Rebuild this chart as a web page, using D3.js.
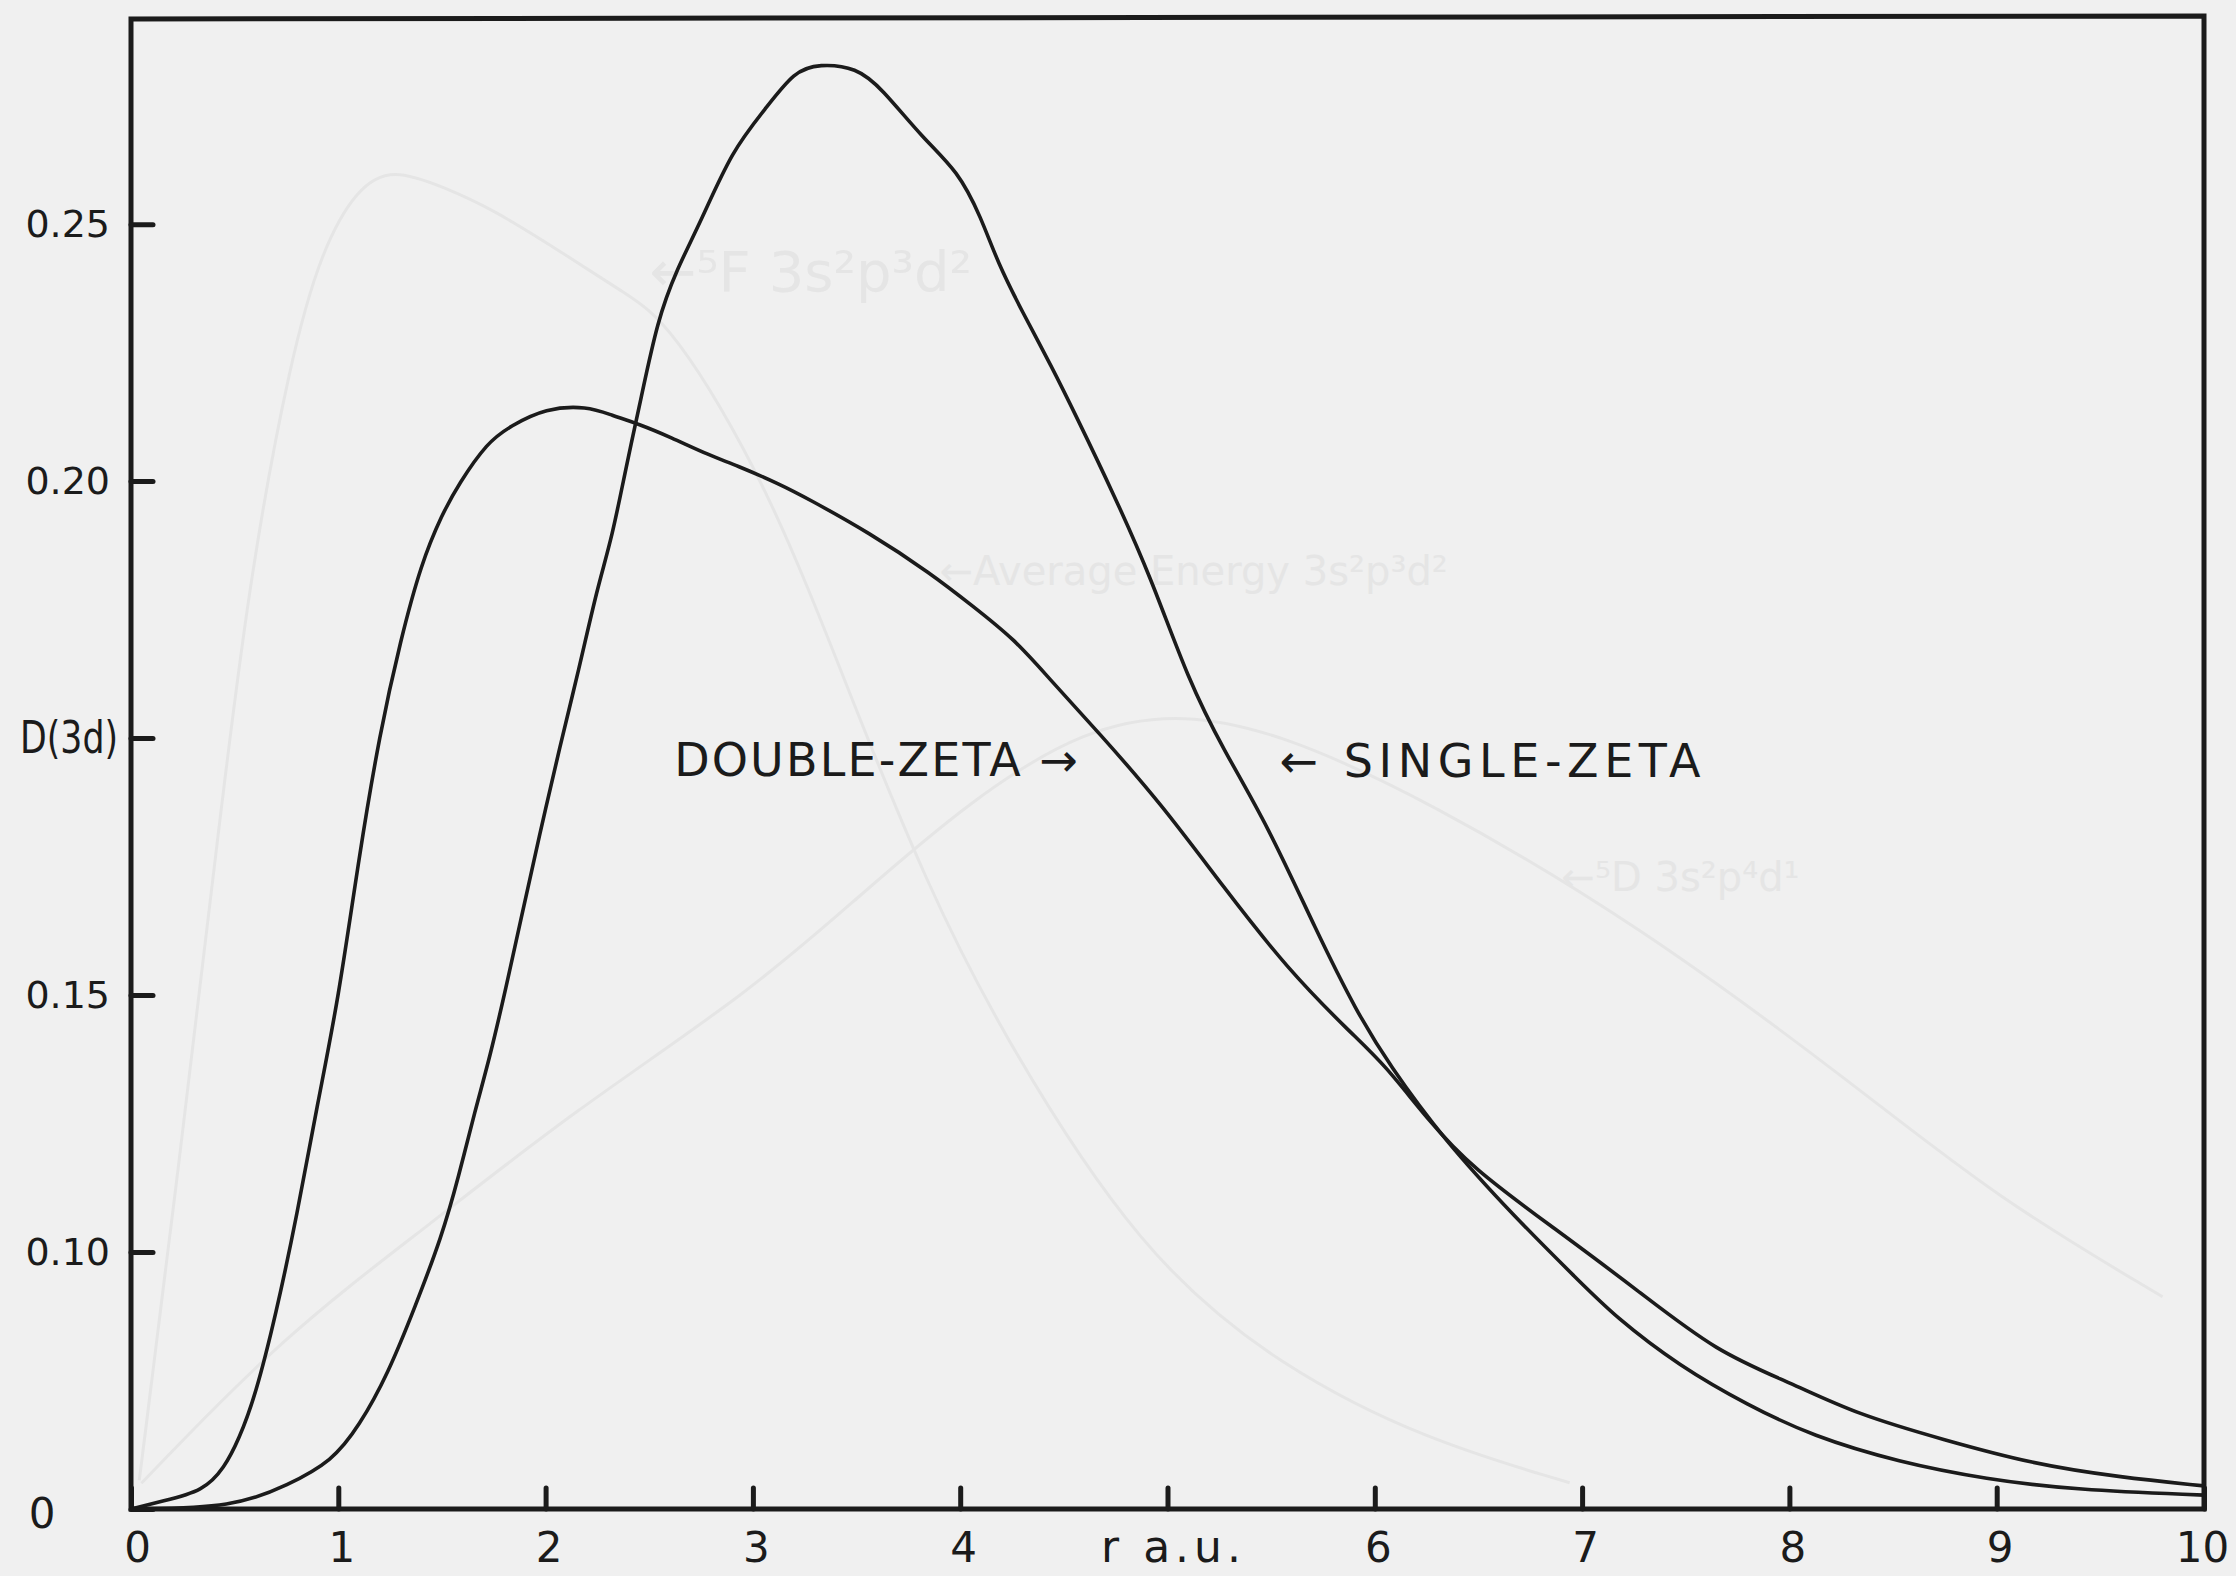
<!DOCTYPE html>
<html>
<head>
<meta charset="utf-8">
<script src="https://cdn.jsdelivr.net/npm/d3@7"></script>
<style>
  body { margin: 0; background: #f0f0f0; }
  svg { display: block; }
</style>
</head>
<body>
<div id="visArea"></div>
<script>
// values (r in a.u., D(3d) in plot units)
var singleR = [0, 0.5, 0.76, 0.97, 1.10, 1.24, 1.37, 1.50, 1.58, 1.66, 1.73, 1.81, 1.88, 1.97, 2.07, 2.16, 2.25, 2.32, 2.39, 2.46, 2.54, 2.63, 2.75, 2.90, 3.06, 3.20, 3.32, 3.50, 3.62, 3.82, 3.99, 4.10, 4.18, 4.30, 4.44, 4.56, 4.74, 4.92, 5.10, 5.27, 5.48, 5.72, 5.91, 6.07, 6.33, 6.68, 6.98, 7.16, 7.47, 7.80, 8.11, 8.53, 8.95, 9.38, 10]
var singleD = [0, 0.0003, 0.0047, 0.0093, 0.0161, 0.0263, 0.0393, 0.0531, 0.0646, 0.0776, 0.0877, 0.1016, 0.1146, 0.131, 0.1486, 0.1632, 0.1794, 0.1889, 0.2031, 0.216, 0.2313, 0.241, 0.2506, 0.2644, 0.2724, 0.2798, 0.2812, 0.2805, 0.2765, 0.2667, 0.2603, 0.2514, 0.2426, 0.2329, 0.2224, 0.2126, 0.1975, 0.1813, 0.1613, 0.1477, 0.1333, 0.1123, 0.0969, 0.0864, 0.072, 0.0566, 0.0446, 0.0374, 0.0278, 0.0202, 0.0142, 0.0091, 0.0058, 0.0037, 0.0027]

var doubleR = [0, 0.15, 0.35, 0.45, 0.52, 0.60, 0.70, 0.80, 0.90, 1.00, 1.10, 1.20, 1.30, 1.40, 1.50, 1.58, 1.72, 1.83, 2.00, 2.20, 2.32, 2.45, 2.60, 2.79, 2.92, 3.13, 3.26, 3.56, 3.86, 4.06, 4.26, 4.42, 4.67, 4.97, 5.27, 5.58, 5.88, 6.05, 6.25, 6.47, 6.87, 7.27, 7.65, 8.01, 8.32, 8.75, 9.17, 9.59, 10]
var doubleD = [0, 0.0015, 0.0035, 0.008, 0.0135, 0.022, 0.038, 0.057, 0.079, 0.099, 0.127, 0.151, 0.169, 0.184, 0.1935, 0.1994, 0.2076, 0.2107, 0.2142, 0.2146, 0.2128, 0.2111, 0.2086, 0.205, 0.2031, 0.1994, 0.1967, 0.190, 0.182, 0.1757, 0.1693, 0.162, 0.151, 0.1372, 0.121, 0.105, 0.0928, 0.0864, 0.076, 0.0663, 0.0545, 0.0425, 0.0305, 0.0245, 0.0185, 0.0134, 0.0088, 0.0062, 0.0045]

// faint curves showing through from the other side of the sheet
var ghostAR = [0.04, 0.24, 0.41, 0.57, 0.77, 0.92, 1.09, 1.26, 1.52, 1.74, 2.06, 2.38, 2.60, 3.08, 3.50, 3.84, 4.18, 4.87, 5.56, 6.25, 6.94]
var ghostAD = [0.0056, 0.0698, 0.128, 0.181, 0.224, 0.245, 0.257, 0.261, 0.257, 0.253, 0.245, 0.2366, 0.231, 0.199, 0.155, 0.1216, 0.0938, 0.0494, 0.0272, 0.0134, 0.0051]
var ghostBR = [0.05, 0.74, 1.43, 2.12, 2.99, 3.50, 4.05, 4.60, 5.08, 5.56, 6.25, 7.27, 8.31, 9.0, 9.8]
var ghostBD = [0.005, 0.0339, 0.055, 0.077, 0.1007, 0.1188, 0.138, 0.152, 0.155, 0.1507, 0.138, 0.1138, 0.0827, 0.0605, 0.0413]
var ghostLabels = ["\u2190\u2075F  3s\u00b2p\u00b3d\u00b2", "\u2190Average Energy  3s\u00b2p\u00b3d\u00b2", "\u2190\u2075D  3s\u00b2p\u2074d\u00b9"]
var ghostLabelR = [2.5, 3.9, 6.9]
var ghostLabelD = [0.237, 0.1797, 0.1203]

var xTicks = [0, 1, 2, 3, 4, 5, 6, 7, 8, 9, 10]
var xTickLabels = ["0", "1", "2", "3", "4", "r a.u.", "6", "7", "8", "9", "10"]
var yTicks = [0, 0.05, 0.10, 0.15, 0.20, 0.25]
var yTickLabels = ["0", "0.10", "0.15", "D(3d)", "0.20", "0.25"]

var seriesNames = ["DOUBLE-ZETA \u2192", "\u2190 SINGLE-ZETA"]
var seriesLabelR = [2.62, 5.54]
var seriesLabelD = [0.1426, 0.1424]

// display constants
var viewWidth = 2236
var viewHeight = 1576
var margin = {left: 131, right: 32, top: 16, bottom: 67}
var ink = "#1b1b1b"
var ghostInk = "#e5e5e5"
var font = "'DejaVu Sans', sans-serif"

var xScale = d3.scaleLinear()
  .domain([0, 10])
  .range([margin.left, viewWidth - margin.right])

var yScale = d3.scaleLinear()
  .domain([0, 0.2905])
  .range([viewHeight - margin.bottom, margin.top])

var svg = d3.select('#visArea')
  .append('svg')
  .attr('width', viewWidth)
  .attr('height', viewHeight)

svg.append('rect')
  .attr('width', viewWidth)
  .attr('height', viewHeight)
  .attr('fill', '#f0f0f0')

var lineGenerator = d3.line()
  .x(function(d) { return xScale(d[0]) })
  .y(function(d) { return yScale(d[1]) })
  .curve(d3.curveBasis)

function zipSeries(rs, ds) {
  return rs.map(function(r, i) { return [r, ds[i]] })
}

// ghost marks first so the real ink sits on top
var ghost = svg.append('g').attr('class', 'ghost')
;[zipSeries(ghostAR, ghostAD), zipSeries(ghostBR, ghostBD)].forEach(function(pts) {
  ghost.append('path')
    .attr('d', lineGenerator(pts))
    .attr('fill', 'none')
    .attr('stroke', ghostInk)
    .attr('stroke-width', 3)
})
ghost.selectAll('text')
  .data(ghostLabels)
  .enter().append('text')
  .attr('x', function(d, i) { return xScale(ghostLabelR[i]) })
  .attr('y', function(d, i) { return yScale(ghostLabelD[i]) })
  .attr('fill', ghostInk)
  .attr('font-family', font)
  .attr('font-size', function(d, i) { return i === 0 ? 56 : 40 })
  .text(function(d) { return d })

// frame
var x0 = xScale(0), x1 = xScale(10), y0 = yScale(0), yTop = yScale.range()[1]
svg.append('path')
  .attr('d', 'M' + x0 + ',' + y0 + 'L' + x0 + ',' + (yTop + 3) + 'L' + x1 + ',' + yTop + 'L' + x1 + ',' + y0 + 'Z')
  .attr('fill', 'none')
  .attr('stroke', ink)
  .attr('stroke-width', 5)
  .attr('stroke-linejoin', 'miter')

// axes, ticks pointing inward
var xAxis = d3.axisBottom(xScale)
  .tickValues(xTicks)
  .tickSize(-21)
  .tickSizeOuter(0)
  .tickFormat(function(d, i) { return xTickLabels[i] })

var yAxis = d3.axisLeft(yScale)
  .tickValues(yTicks)
  .tickSize(-22)
  .tickSizeOuter(0)
  .tickPadding(21)
  .tickFormat(function(d, i) { return yTickLabels[i] })

var gx = svg.append('g')
  .attr('class', 'x axis')
  .attr('transform', 'translate(0,' + y0 + ')')
  .call(xAxis)

var gy = svg.append('g')
  .attr('class', 'y axis')
  .attr('transform', 'translate(' + x0 + ',0)')
  .call(yAxis)

svg.selectAll('.axis .domain').remove()
svg.selectAll('.axis .tick line')
  .attr('stroke', ink)
  .attr('stroke-width', 5)
  .attr('stroke-linecap', 'round')

gx.selectAll('.tick text')
  .attr('y', 53)
  .attr('dy', null)
  .attr('dx', function(d) { return d === 0 ? 6 : (d === 10 ? -2 : 3) })
  .attr('fill', ink)
  .attr('font-family', font)
  .attr('font-size', 42)
  .each(function(d) {
    if (d === 5) {
      d3.select(this).attr('font-size', 44).attr('textLength', 140).attr('lengthAdjust', 'spacing')
    }
  })

gy.selectAll('.tick text')
  .attr('fill', ink)
  .attr('font-family', font)
  .attr('font-size', function(d, i) { return i === 3 ? 44 : 38 })
  .each(function(d, i) {
    var t = d3.select(this)
    if (i === 0) {
      // lone "0" sits further out, level with the x axis
      t.attr('x', -89).attr('text-anchor', 'middle').attr('dy', '0.45em').attr('font-size', 42)
    } else if (i === 3) {
      t.attr('x', -13).attr('textLength', 98).attr('lengthAdjust', 'spacingAndGlyphs')
    }
  })

// curves
var curves = [zipSeries(doubleR, doubleD), zipSeries(singleR, singleD)]
svg.append('g')
  .selectAll('path')
  .data(curves)
  .enter().append('path')
  .attr('d', lineGenerator)
  .attr('fill', 'none')
  .attr('stroke', ink)
  .attr('stroke-width', 3.6)
  .attr('stroke-linejoin', 'round')

// curve labels
svg.append('g')
  .selectAll('text')
  .data(seriesNames)
  .enter().append('text')
  .attr('x', function(d, i) { return xScale(seriesLabelR[i]) })
  .attr('y', function(d, i) { return yScale(seriesLabelD[i]) })
  .attr('fill', ink)
  .attr('font-family', font)
  .attr('font-size', 46)
  .attr('textLength', function(d, i) { return i === 0 ? 404 : 421 })
  .attr('lengthAdjust', 'spacing')
  .text(function(d) { return d })
</script>
</body>
</html>
